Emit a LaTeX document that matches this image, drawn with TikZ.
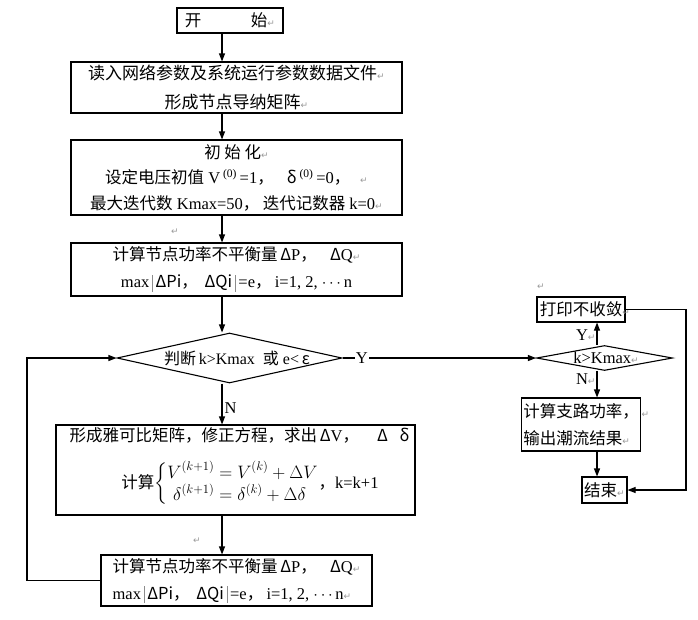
\documentclass[tikz,border=0pt]{standalone}
\usepackage{fix-cm}
\usepackage{amsmath}
\usepackage{fontspec}
\setmainfont{Liberation Serif}
\newfontfamily\cjk{Noto Sans CJK SC}
\newfontfamily\retfont{DejaVu Sans}
\usetikzlibrary{shapes.geometric,arrows.meta}
\newcommand{\cn}[1]{{\cjk #1}}
\newcommand{\ret}{{\color{black!40}\retfont\fontsize{9}{9}\selectfont ↵}}
\newcommand{\vbar}{\,{\color{black!45}\vrule width 0.8pt height 13pt depth 4pt}\,}

\begin{document}
\begin{tikzpicture}[x=1pt,y=-1pt,line width=1.1pt,
	>={Triangle[length=8pt,width=6pt]},
	box/.style={draw,rectangle,inner sep=0pt,font=\fontsize{16.5}{26}\selectfont},
	decision/.style={draw,diamond,inner sep=0pt},
	lbl/.style={font=\fontsize{16.5}{18}\selectfont,inner sep=0pt}]
	\useasboundingbox (0,0) rectangle (698,619);
	\coordinate (spine) at (222,0);
	\coordinate (spineb) at (597,0);
	\coordinate (loopx) at (27,0);
	\coordinate (rightx) at (686,0);

	% main column
	\node[box,minimum width=106,minimum height=25] (start) at (230,20.5) {\cn{开\hspace{3em}始}\ret};
	\node[box,minimum width=331,minimum height=51,align=center,font=\fontsize{17}{29}\selectfont] (read) at (236.5,87.5)
		{\cn{读入网络参数及系统运行参数数据文件}\ret\\ \cn{形成节点导纳矩阵}\ret};
	\node[box,minimum width=331,minimum height=75,align=center,font=\fontsize{16.5}{25.5}\selectfont] (init) at (236.5,177.5)
		{\cn{初 始 化}\ret\\
		\cn{设定电压初值}\ V\,\textsuperscript{(0)}\,=1\cn{，}\hspace{0.8em}\cn{δ}\,\textsuperscript{(0)}\,=0\cn{，}\hspace{0.6em}\ret\\
		\cn{最大迭代数}\ Kmax=50\cn{，}\hspace{0.2em}\cn{迭代记数器}\ k=0\ret};
	\node[box,minimum width=331,minimum height=53,align=center,font=\fontsize{16.5}{27}\selectfont] (calc1) at (236.5,269.5)
		{\cn{计算节点功率不平衡量}\,\cn{Δ}P\cn{，}\hspace{0.8em}\cn{Δ}Q\ret\\
		max\vbar\cn{ΔPi，}\hspace{0.4em}\cn{ΔQi}\vbar=e\cn{，}\hspace{0.2em}i=1, 2, $\cdots$n};
	\node[decision,minimum width=225,minimum height=50] (judge) at (229.5,358) {};
	\node[lbl,font=\fontsize{16}{18}\selectfont] (judgetext) at (237,358) {\cn{判断}\,k>Kmax\ \ \cn{或}\ e<\,\cn{ε}};
	\node[box,minimum width=359,minimum height=90] (jacobi) at (235.5,470) {};
	\node[lbl,anchor=west] (jactext) at (69,435)
		{\cn{形成雅可比矩阵，修正方程，求出}\,\cn{Δ}V\cn{，}\hspace{1.1em}\cn{Δ}\hspace{0.7em}\cn{δ}};
	\node[lbl] (jaceq) at (250,484) {\cn{计算}{\fontsize{18}{20}\selectfont$\left\{\begin{aligned}
		V^{(k+1)} &= V^{(k)}+\Delta V\\[-4pt]
		\delta^{(k+1)} &= \delta^{(k)}+\Delta\delta
		\end{aligned}\right.$}\cn{，}k=k+1};
	\node[box,minimum width=271,minimum height=51,align=left,font=\fontsize{16.5}{27}\selectfont] (calc2) at (236.5,580.5)
		{\cn{计算节点功率不平衡量}\,\cn{Δ}P\cn{，}\hspace{0.8em}\cn{Δ}Q\ret\\
		max\vbar\cn{ΔPi，}\hspace{0.4em}\cn{ΔQi}\vbar=e\cn{，}\hspace{0.2em}i=1, 2, $\cdots$n\ret};

	% right column
	\node[decision,minimum width=136,minimum height=25] (check) at (604.5,358) {};
	\node[lbl,font=\fontsize{16.5}{18}\selectfont] (checktext) at (606,358) {k>Kmax\ret};
	\node[box,minimum width=88,minimum height=25,font=\fontsize{16.5}{20}\selectfont] (print) at (581,309.5) {\cn{打印不收敛}\rlap{\ret}};
	\node[box,minimum width=119,minimum height=53,align=left,font=\fontsize{16.5}{27}\selectfont] (power) at (581,424.5)
		{\cn{计算支路功率，}\rlap{\,\ret}\\ \cn{输出潮流结果}\rlap{\ret}};
	\node[box,minimum width=45,minimum height=26,font=\fontsize{16.5}{20}\selectfont] (finish) at (604.5,490) {\cn{结束}\ret};

	% stray paragraph marks
	\node (markA) at (175,232) {\ret};
	\node (markB) at (541,287) {\ret};
	\node (markC) at (197,541) {\ret};

	% connectors
	\draw[->] (start.south -| spine) -- (read.north -| spine);
	\draw[->] (read.south -| spine) -- (init.north -| spine);
	\draw[->] (init.south -| spine) -- (calc1.north -| spine);
	\draw[->] (calc1.south -| spine) -- (judge.north -| spine);
	\draw[->] (judge.south -| spine) -- node[lbl,right=2pt,pos=0.6] {N} (jacobi.north -| spine);
	\draw[->] (jacobi.south -| spine) -- (calc2.north -| spine);
	\draw[->] (calc2.west) -- (calc2.west -| loopx) -- (judge.west -| loopx) -- (judge.west);
	\draw[->] (judge.east) -- node[lbl,fill=white,inner sep=1pt,pos=0.1] {Y} (check.west);
	\draw[->] (check.north -| spineb) -- node[lbl,left=1pt,pos=0.45] {Y\ret} (print.south -| spineb);
	\draw[->] (check.south -| spineb) -- node[lbl,left=1pt,pos=0.3] {N\ret} (power.north -| spineb);
	\draw[->] (power.south -| spineb) -- (finish.north -| spineb);
	\draw[->] (print.east) -- (print.east -| rightx) -- (finish.east -| rightx) -- (finish.east);
\end{tikzpicture}
\end{document}
